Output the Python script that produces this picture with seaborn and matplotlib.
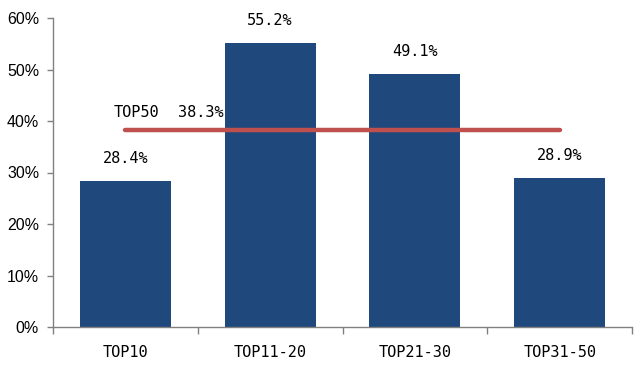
import matplotlib
matplotlib.use("Agg")
import matplotlib.pyplot as plt
import seaborn as sns
import pandas as pd
from matplotlib.ticker import FixedLocator, PercentFormatter

categories = ["TOP10", "TOP11-20", "TOP21-30", "TOP31-50"]
values = [28.4, 55.2, 49.1, 28.9]
avg_label = "TOP50"
avg_value = 38.3
yticks = [0, 10, 20, 30, 40, 50, 60]

bar_color = "#1F497D"
line_color = "#C0504D"
mono = ["DejaVu Sans Mono"]

sns.set_theme(style="white")
plt.rcParams["font.family"] = ["Liberation Sans", "DejaVu Sans"]
plt.rcParams["text.color"] = "#000000"

df = pd.DataFrame({"cat": categories, "val": values})

fig = plt.figure(figsize=(6.4, 3.71), dpi=100)
ax = fig.add_axes([53/640, 1-327/371, (632-53)/640, (327-18)/371])

sns.barplot(data=df, x="cat", y="val", color=bar_color, width=0.63,
            saturation=1, ax=ax, edgecolor="none")

ax.set_xlim(-0.5, len(categories) - 0.5)
ax.set_ylim(0, 60)
ax.set_yticks(yticks)
ax.yaxis.set_major_formatter(PercentFormatter(decimals=0))
ax.set_xlabel("")
ax.set_ylabel("")

for s in ["top", "right"]:
    ax.spines[s].set_visible(False)
for s in ["left", "bottom"]:
    ax.spines[s].set_color("#808080")
    ax.spines[s].set_linewidth(1.0)

ax.tick_params(axis="y", which="major", left=True, length=4, width=1,
               color="#808080", pad=6, labelsize=11.5, labelcolor="#000000")
ax.tick_params(axis="x", which="major", bottom=False, pad=7, labelsize=11,
               labelcolor="#000000")
ax.xaxis.set_minor_locator(FixedLocator([i - 0.5 for i in range(len(categories) + 1)]))
ax.tick_params(axis="x", which="minor", bottom=True, length=5, width=1,
               color="#808080")
for lbl in ax.get_xticklabels():
    lbl.set_fontfamily(mono)

# average line
ax.plot([0, len(categories) - 1], [avg_value, avg_value], color=line_color,
        linewidth=3.2, solid_capstyle="round", zorder=5)
ax.text(-0.079, 41.7, avg_label, fontsize=11, family=mono, va="center",
        ha="left", color="#000000")
ax.text(0.362, 41.7, f"{avg_value:.1f}%", fontsize=11, family=mono,
        va="center", ha="left", color="#000000")

for i, v in enumerate(values):
    ax.annotate(f"{v:.1f}%", (i, v), xytext=(0, 16), textcoords="offset points",
                ha="center", va="center", fontsize=11, family=mono,
                color="#000000")

fig.savefig("out.png", dpi=100)
